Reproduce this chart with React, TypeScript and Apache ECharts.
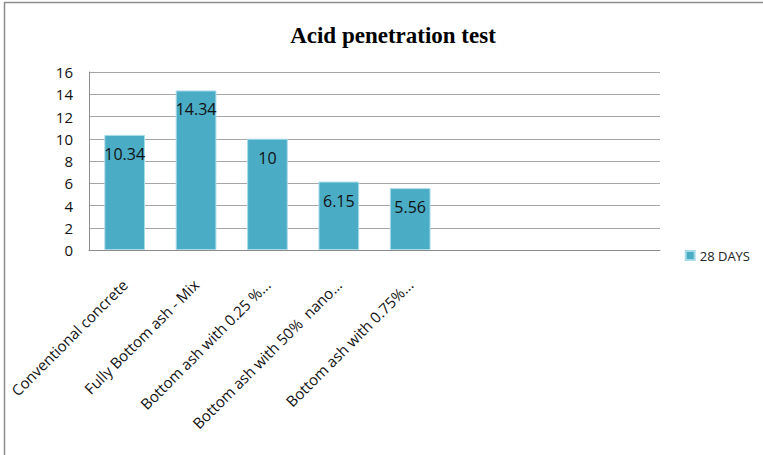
import React, { useEffect, useRef } from "react";
import * as echarts from "echarts";

const categories = [
  "Conventional concrete",
  "Fully Bottom ash - Mix",
  "Bottom ash with 0.25 %...",
  "Bottom ash with 50%  nano...",
  "Bottom ash with 0.75%...",
  "",
  "",
  "",
];
const days28 = [10.34, 14.34, 10, 6.15, 5.56, null, null, null];
const seriesName = "28 DAYS";
const titleText = "Acid penetration test";

export default function App() {
  const ref = useRef<HTMLDivElement>(null);
  useEffect(() => {
    document.body.style.margin = "0";
    const chart = echarts.init(ref.current!, null, { renderer: "svg" });
    chart.setOption({
      animation: false,
      backgroundColor: "#ffffff",
      title: {
        text: titleText,
        left: 388,
        textAlign: "center",
        top: 19,
        textStyle: {
          fontFamily: "Liberation Serif",
          fontWeight: "bold",
          fontSize: 23,
          color: "#000",
        },
      },
      graphic: [
        {
          type: "polyline",
          shape: { points: [[4.5, 455], [4.5, 2.5], [763, 2.5]] },
          style: { fill: "none", stroke: "#8c8c8c", lineWidth: 1.5 },
          silent: true,
        },
      ],
      legend: {
        right: 8,
        top: 244,
        orient: "vertical",
        itemWidth: 9,
        itemHeight: 9,
        itemGap: 4,
        icon: "rect",
        textStyle: { fontFamily: "Open Sans", fontSize: 13, color: "#222" },
        data: [seriesName],
      },
      grid: { left: 89, top: 72, right: 103, bottom: 205, containLabel: false },
      xAxis: {
        type: "category",
        data: categories,
        axisLine: { lineStyle: { color: "#8c8c8c" } },
        axisTick: { show: false },
        axisLabel: {
          rotate: 45,
          interval: 0,
          margin: 32,
          fontFamily: "Open Sans",
          fontSize: 15,
          color: "#111",
        },
      },
      yAxis: {
        type: "value",
        min: 0,
        max: 16,
        interval: 2,
        axisLine: { show: true, lineStyle: { color: "#8c8c8c" } },
        axisTick: { show: false },
        splitLine: { lineStyle: { color: "#a6a6a6" } },
        axisLabel: {
          margin: 16,
          fontFamily: "Open Sans",
          fontSize: 15,
          color: "#111",
        },
      },
      series: [
        {
          name: seriesName,
          type: "bar",
          data: days28,
          barWidth: "57%",
          itemStyle: { color: "#4bacc6", borderColor: "#a8dbe8", borderWidth: 1 },
          label: {
            show: true,
            position: "insideTop",
            distance: 11,
            fontFamily: "Open Sans",
            fontSize: 16,
            color: "#111",
          },
        },
      ],
    });
    return () => chart.dispose();
  }, []);
  return <div ref={ref} style={{ width: 763, height: 455 }} />;
}
